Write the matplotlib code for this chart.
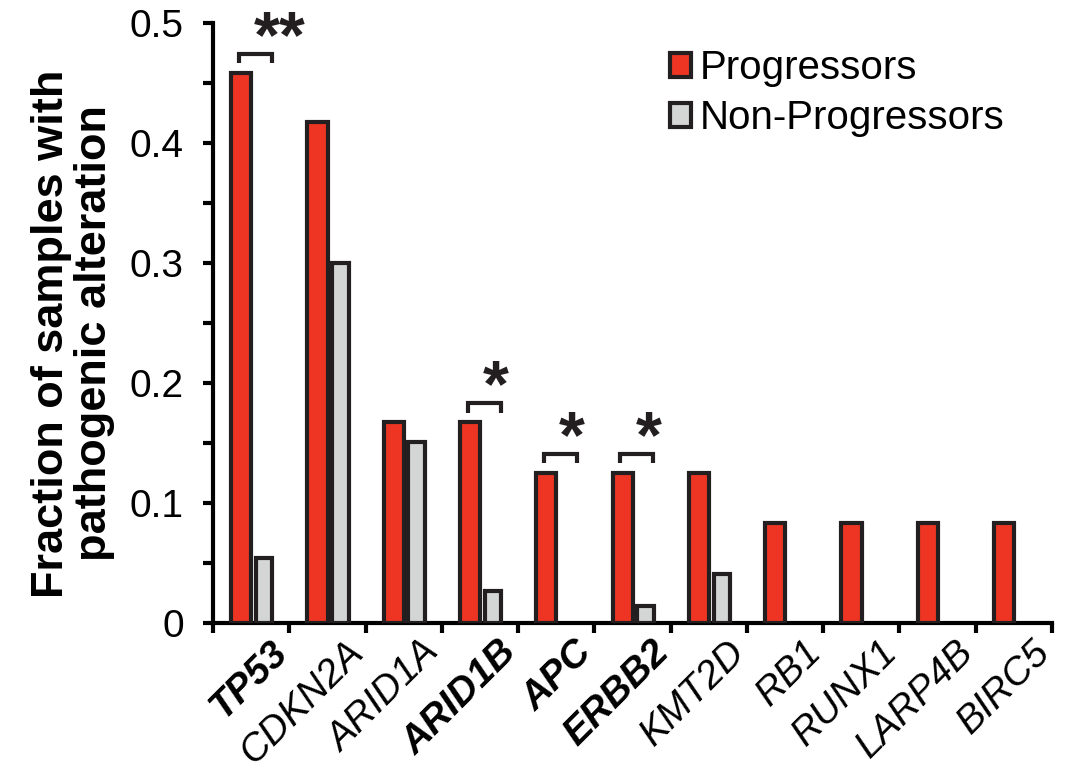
import numpy as np
import matplotlib
matplotlib.use("Agg")
import matplotlib.pyplot as plt
import matplotlib.transforms as mtransforms
from matplotlib.ticker import FuncFormatter, MultipleLocator

plt.rcParams['font.family'] = ['Liberation Sans', 'DejaVu Sans']

genes = ["TP53", "CDKN2A", "ARID1A", "ARID1B", "APC", "ERBB2",
         "KMT2D", "RB1", "RUNX1", "LARP4B", "BIRC5"]
bold_genes = ["TP53", "ARID1B", "APC", "ERBB2"]
progressors = [0.458, 0.417, 0.167, 0.167, 0.125, 0.125, 0.125,
               0.083, 0.083, 0.083, 0.083]
non_progressors = [0.054, 0.300, 0.151, 0.027, 0.0, 0.014, 0.041,
                   0.0, 0.0, 0.0, 0.0]
# significance marks (gene -> stars)
signif = {"TP53": "**", "ARID1B": "*", "APC": "*", "ERBB2": "*"}

red = "#ee3524"
grey = "#d4d6d5"
edge = "#231f20"

fig = plt.figure(figsize=(10.71, 7.79), dpi=100)
ax = fig.add_axes([0.1989, 0.2003, 0.7834, 0.7706])

x = np.arange(len(genes))
b1 = ax.bar(x - 0.13, progressors, width=0.265, color=red,
            edgecolor=edge, linewidth=3, label="Progressors", zorder=3)
b2 = ax.bar(x + 0.17, non_progressors, width=0.215, color=grey,
            edgecolor=edge, linewidth=3, label="Non-Progressors", zorder=3)
# zero-height bars are not drawn in the reference
for rect, v in zip(b2, non_progressors):
    if v == 0:
        rect.set_visible(False)

ax.set_xlim(-0.5, len(genes) - 0.5)
ax.set_ylim(0, 0.5)

for s in ["top", "right"]:
    ax.spines[s].set_visible(False)
for s in ["left", "bottom"]:
    ax.spines[s].set_linewidth(3)
    ax.spines[s].set_color("black")

ax.yaxis.set_major_locator(MultipleLocator(0.1))
ax.yaxis.set_minor_locator(MultipleLocator(0.05))
ax.yaxis.set_major_formatter(FuncFormatter(lambda v, p: "0" if v == 0 else f"{v:.1f}"))
ax.tick_params(axis="y", which="both", direction="out", length=7, width=3,
               labelsize=28, pad=14)

ax.set_xticks(np.arange(len(genes) + 1) - 0.5)
ax.set_xticklabels([])
ax.set_xticks(x, minor=True)
ax.set_xticklabels(genes, minor=True)
ax.tick_params(axis="x", which="major", direction="out", length=7, width=3)
ax.tick_params(axis="x", which="minor", length=0, labelsize=28, pad=8)
shift = mtransforms.ScaledTranslation(18 / 100, 0, fig.dpi_scale_trans)
for lab in ax.get_xticklabels(minor=True):
    lab.set_rotation(45)
    lab.set_rotation_mode("anchor")
    lab.set_ha("right")
    lab.set_va("top")
    lab.set_style("italic")
    if lab.get_text() in bold_genes:
        lab.set_weight("bold")
    lab.set_transform(lab.get_transform() + shift)

# significance brackets and stars
for g, stars in signif.items():
    i = genes.index(g)
    top = progressors[i]
    y0 = top + 0.008
    y1 = top + 0.016
    xl, xr = i - 0.16, i + 0.27
    ax.plot([xl, xl, xr, xr], [y0, y1, y1, y0], color=edge, lw=3,
            solid_capstyle="butt", solid_joinstyle="miter", zorder=4)
    ax.annotate(stars, xy=(i + 0.04, top + 0.04), xytext=(0, -23),
                textcoords="offset points", ha="left", va="baseline",
                fontsize=48, fontweight="bold", color=edge)

fig.text(0.068, 0.572, "Fraction of samples with\npathogenic alteration",
         rotation=90, ha="center", va="center", multialignment="center",
         fontsize=32.5, fontweight="bold", linespacing=1.05)

ax.legend(handles=[b1, b2], loc="upper left",
          bbox_to_anchor=(0.626, 0.937), bbox_transform=fig.transFigure,
          frameon=False, fontsize=29, handlelength=0.52, handleheight=0.52,
          handletextpad=0.2, labelspacing=0.3, borderpad=0, borderaxespad=0)

fig.savefig("out.png", dpi=100)
